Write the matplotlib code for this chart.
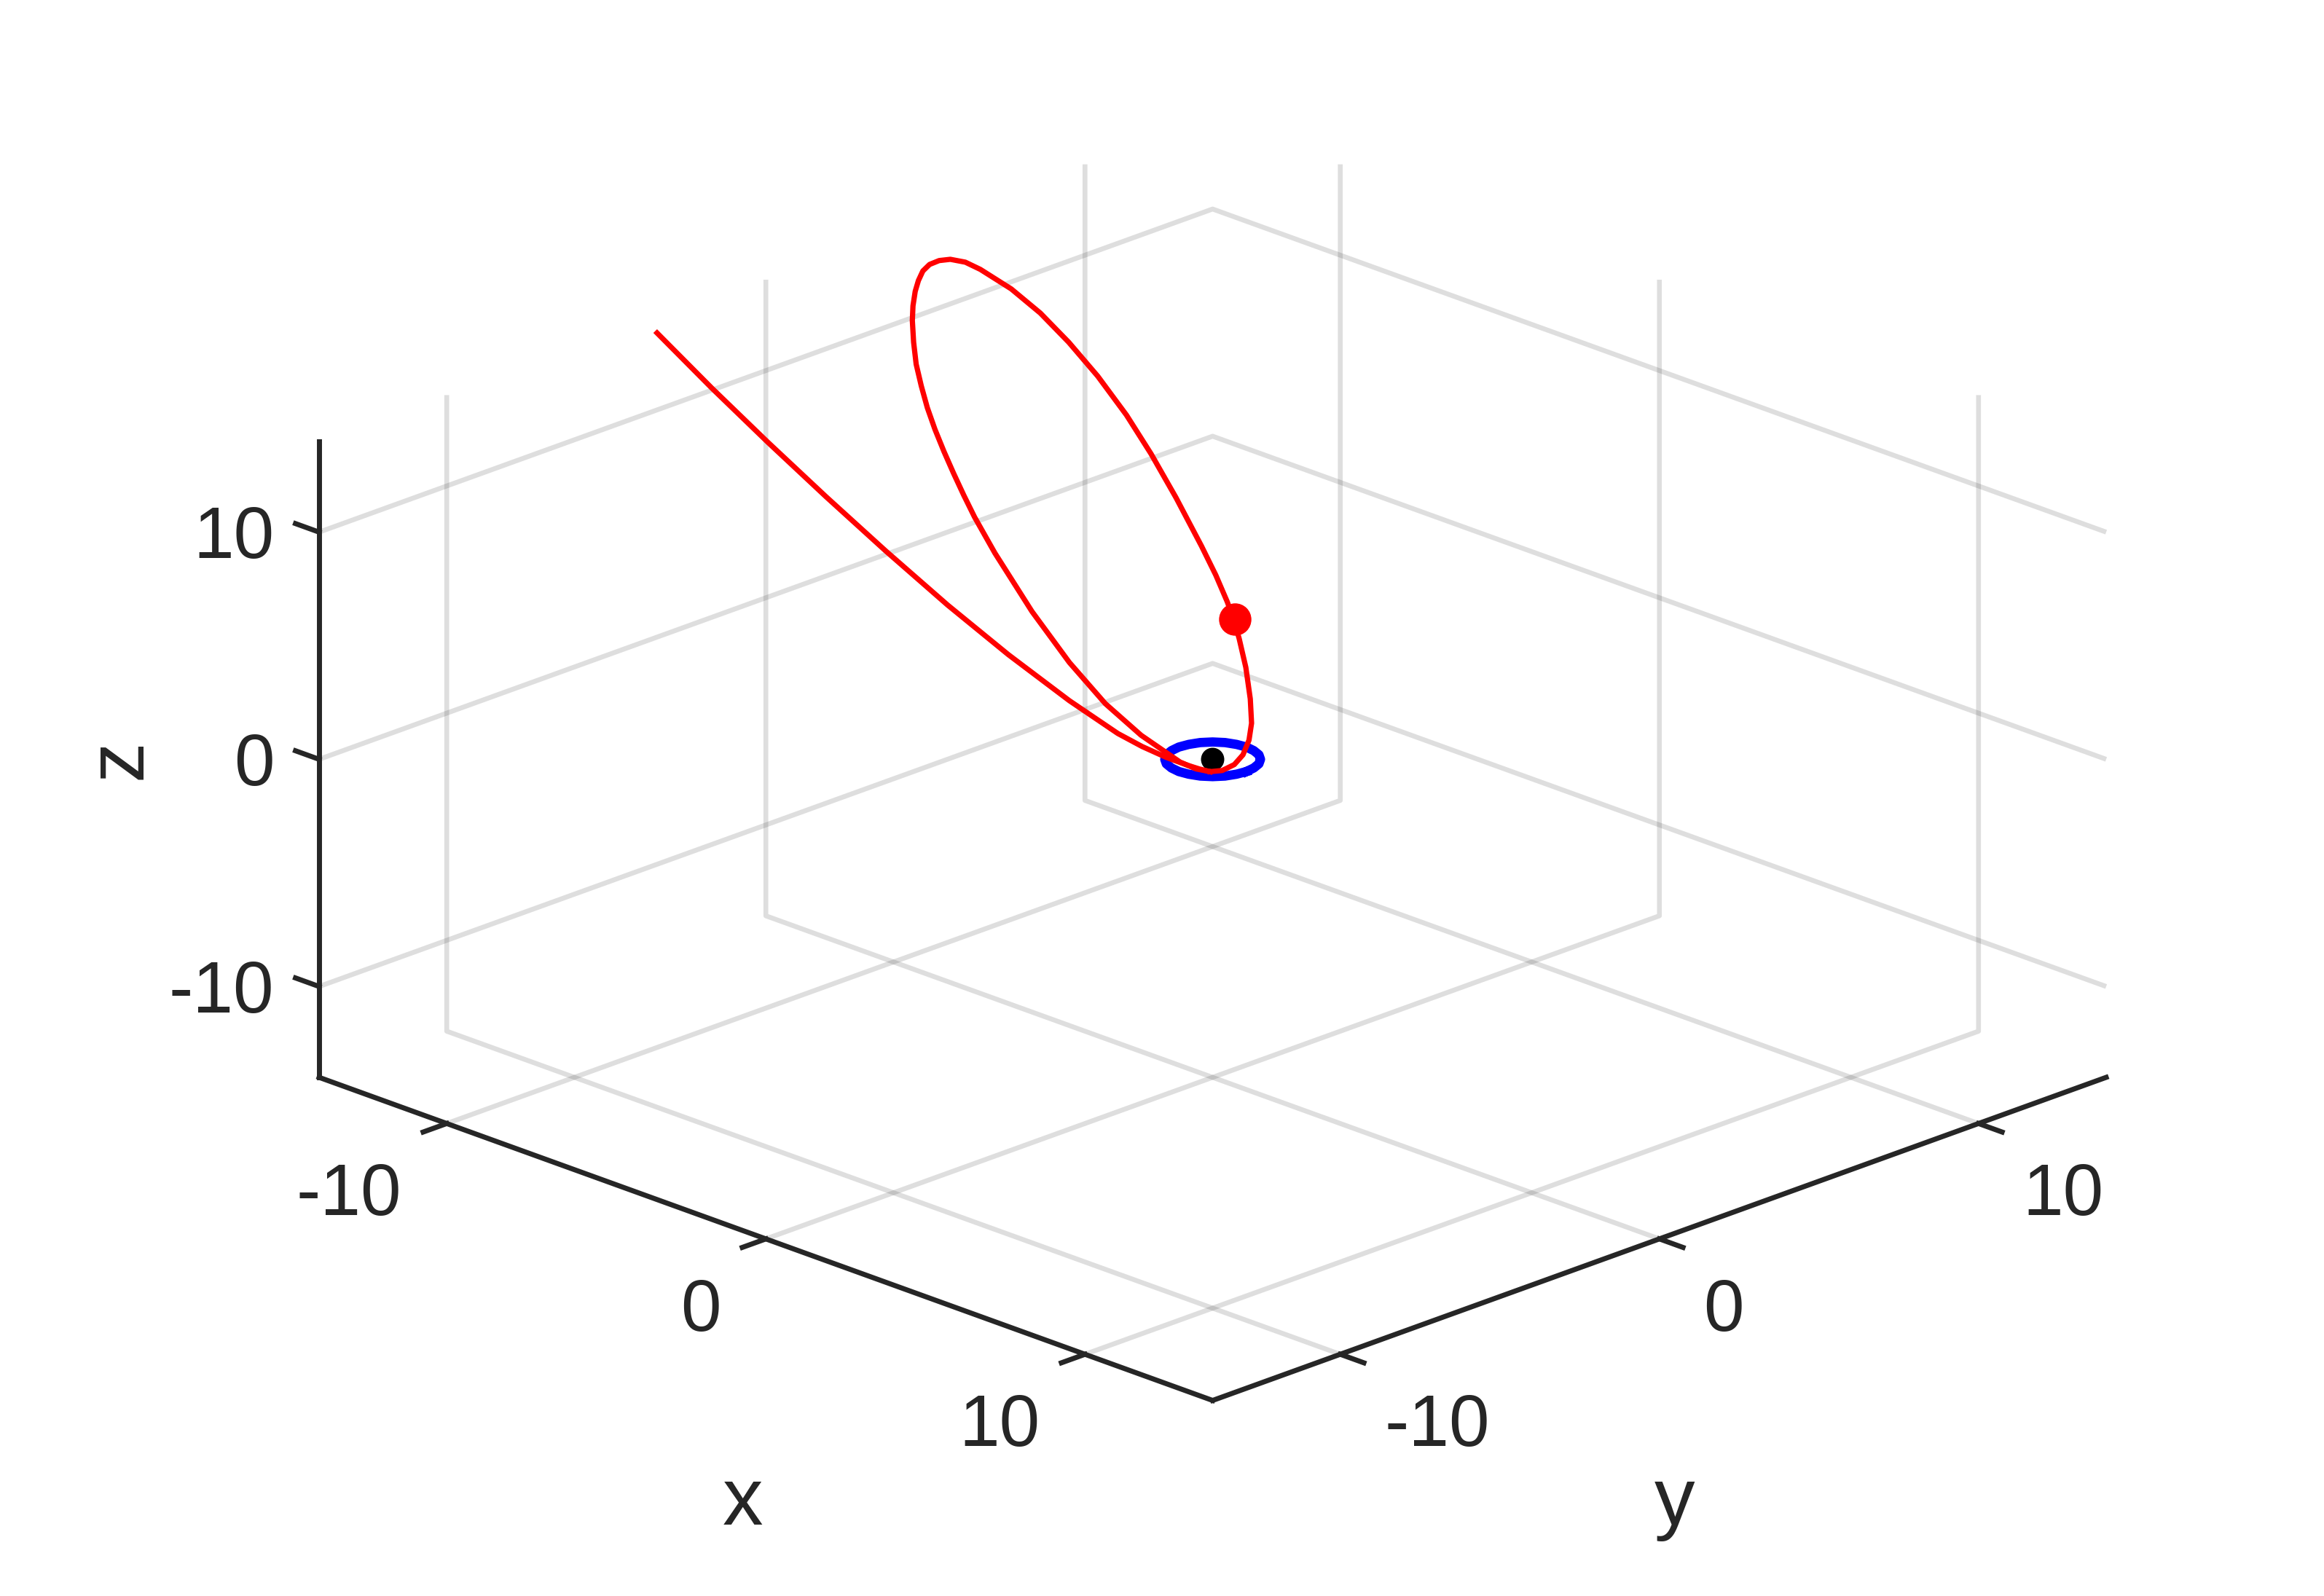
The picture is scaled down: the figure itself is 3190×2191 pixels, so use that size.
import matplotlib
matplotlib.use("Agg")
import matplotlib.pyplot as plt
from mpl_toolkits.mplot3d import proj3d

plt.rcParams["font.family"] = ["Liberation Sans", "DejaVu Sans"]
plt.rcParams["grid.color"] = "#26262626"
plt.rcParams["grid.linewidth"] = 2.4

# axes
LIM = 14
TICKS = [-10, 0, 10]
TICK_LABELS = ["-10", "0", "10"]

# sun and planet orbit (xy plane)
sun = (0.0, 0.0, 0.0)
ring_x = [1.06, 1.02, 0.92, 0.75, 0.53, 0.27, 0.0, -0.27, -0.53, -0.75, -0.92, -1.02,
          -1.06, -1.02, -0.92, -0.75, -0.53, -0.27, 0.0, 0.27, 0.53, 0.75, 0.92, 1.02, 1.06]
ring_y = [0.0, 0.27, 0.53, 0.75, 0.92, 1.02, 1.06, 1.02, 0.92, 0.75, 0.53, 0.27,
          0.0, -0.27, -0.53, -0.75, -0.92, -1.02, -1.06, -1.02, -0.92, -0.75, -0.53, -0.27, 0.0]
ring_z = [0.0] * len(ring_x)

# incoming branch of the trajectory, down to periapsis
approach_x = [-13.89, -12.27, -10.68, -9.04, -7.40, -5.73, -4.16, -2.65, -1.52, -1.01,
              -0.55, -0.16, 0.03, 0.19]
approach_y = [-3.52, -3.41, -3.26, -3.07, -2.84, -2.57, -2.24, -1.84, -1.45, -1.20,
              -0.90, -0.61, -0.45, -0.27]
approach_z = [13.50, 11.82, 10.19, 8.52, 6.85, 5.18, 3.63, 2.17, 1.10, 0.66,
              0.26, -0.04, -0.18, -0.31]

# closed elliptical orbit after capture
orbit_x = [0.19, 0.36, 0.44, 0.39, 0.21, -0.07, -0.54, -1.20, -1.85, -2.31, -2.72,
           -3.40, -4.17, -5.48, -6.69, -7.80, -8.98, -10.07, -11.06, -11.97, -12.82,
           -13.19, -13.48, -13.63, -13.71, -13.69, -13.58, -13.43, -13.19, -12.93,
           -12.50, -12.05, -11.56, -11.06, -10.53, -9.98, -9.42, -8.85, -8.27, -7.27,
           -5.60, -4.06, -2.72, -1.57, -0.46, -0.08, 0.19]
orbit_y = [-0.27, -0.06, 0.24, 0.56, 0.93, 1.29, 1.72, 2.24, 2.68, 2.96, 3.18,
           3.50, 3.82, 4.33, 4.76, 5.10, 5.38, 5.56, 5.66, 5.66, 5.54,
           5.44, 5.26, 5.06, 4.84, 4.61, 4.36, 4.11, 3.80, 3.52,
           3.13, 2.76, 2.43, 2.12, 1.83, 1.56, 1.30, 1.05, 0.81, 0.45,
           -0.06, -0.43, -0.64, -0.67, -0.56, -0.44, -0.27]
orbit_z = [-0.31, -0.28, -0.13, 0.11, 0.48, 0.90, 1.51, 2.30, 3.02, 3.51, 3.93,
           4.60, 5.33, 6.54, 7.63, 8.60, 9.57, 10.42, 11.15, 11.75, 12.24,
           12.42, 12.49, 12.46, 12.36, 12.20, 11.96, 11.69, 11.33, 10.96,
           10.42, 9.87, 9.33, 8.78, 8.24, 7.69, 7.15, 6.60, 6.05, 5.15,
           3.69, 2.42, 1.39, 0.60, -0.07, -0.24, -0.31]

# current position of the craft
craft = (-2.28, 2.98, 3.51)

DARK = "#262626"

fig = plt.figure(figsize=(15.95, 10.955), dpi=200)
ax = fig.add_axes([0, 0, 1, 1], projection="3d")
ax.set_proj_type("ortho")
ax.view_init(elev=21.2, azim=-45)
ax.set_box_aspect((1, 1, 0.540))
ax.computed_zorder = False

ax.plot(ring_x, ring_y, ring_z, color="b", lw=4.6, zorder=1)
ax.plot([sun[0]], [sun[1]], [sun[2]], "o", color="k", ms=11.5, mew=0, zorder=2)
ax.plot(approach_x, approach_y, approach_z, color="r", lw=2.6, zorder=3)
ax.plot(orbit_x, orbit_y, orbit_z, color="r", lw=2.6, zorder=3)
ax.plot([craft[0]], [craft[1]], [craft[2]], "o", color="r", ms=16, mew=0, zorder=4)

ax.set_xlim(-LIM, LIM)
ax.set_ylim(-LIM, LIM)
ax.set_zlim(-LIM, LIM)
ax.set_xticks(TICKS)
ax.set_yticks(TICKS)
ax.set_zticks(TICKS)
ax.tick_params(colors=DARK)

# z axis on the front-left edge, ticks pointing along -x
ax.zaxis.set_ticks_position("lower")
ax.zaxis.set_label_position("lower")
ax.zaxis._get_tickdir = lambda position: 0

for axis in (ax.xaxis, ax.yaxis, ax.zaxis):
    axis.set_tick_params(label1On=False, label2On=False)
    axis.set_pane_color((1, 1, 1, 0))
    axis.line.set_color(DARK)
    axis.line.set_linewidth(2.5)
    axis._axinfo["tick"]["linewidth"] = {True: 2.5, False: 1.0}
for axis in (ax.xaxis, ax.yaxis):
    axis._axinfo["tick"]["inward_factor"] = 0.33
    axis._axinfo["tick"]["outward_factor"] = 0.0
ax.zaxis._axinfo["tick"]["inward_factor"] = 0.0
ax.zaxis._axinfo["tick"]["outward_factor"] = 0.33

# fit the projected box to where it sits in the original picture
fig.canvas.draw()
W, H = fig.bbox.width, fig.bbox.height


def to_px(x, y, z):
    X, Y, _ = proj3d.proj_transform(x, y, z, ax.get_proj())
    return ax.transData.transform((X, Y))


a = to_px(-LIM, -LIM, -LIM)
c = to_px(LIM, LIM, -LIM)
f = (2891 - 438) / (c[0] - a[0])
bb = ax.bbox
x0 = 438 - f * (a[0] - bb.x0)
y0 = (H - 1479) - f * (a[1] - bb.y0)
ax.set_position([x0 / W, y0 / H, f * bb.width / W, f * bb.height / H])
fig.canvas.draw()

# tick labels, set just outside the box edges
for t, lab in zip(TICKS, TICK_LABELS):
    spots = [((t, -LIM - 1.41, -LIM - 2.49), "right"),
             ((LIM + 1.38, t, -LIM - 2.50), "left"),
             ((-LIM - 0.39, -LIM - 1.02, t), "right")]
    for (x, y, z), ha in spots:
        px = to_px(x, y, z)
        fig.text(px[0] / W, px[1] / H, lab, fontsize=36, color=DARK, ha=ha, va="center")

fig.text(1020 / 3190, 1 - 2093 / 2191, "x", fontsize=40, color=DARK, ha="center", va="baseline")
fig.text(2299 / 3190, 1 - 2093 / 2191, "y", fontsize=40, color=DARK, ha="center", va="baseline")
fig.text(165 / 3190, 1 - 1042 / 2191, "z", fontsize=40, color=DARK, rotation=90,
         ha="center", va="center")

fig.savefig("out.png", dpi=200)
